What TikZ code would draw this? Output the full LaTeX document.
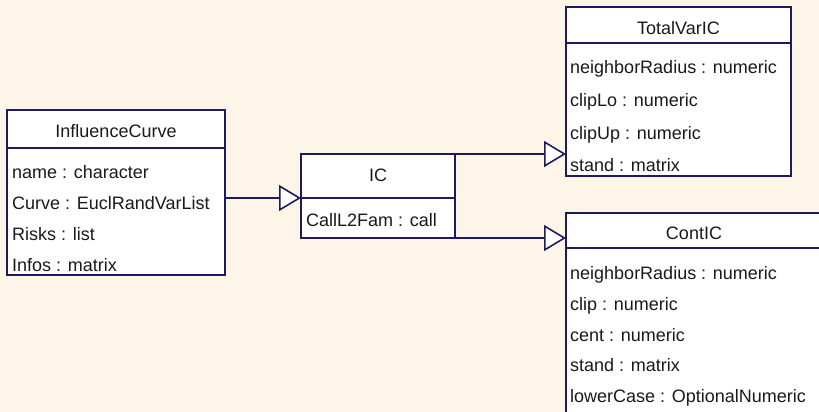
\documentclass[tikz,border=0pt]{standalone}
\usepackage{fontspec}
\setmainfont{Liberation Sans}
\usetikzlibrary{arrows.meta}
\definecolor{bgc}{HTML}{FDF5E8}
\definecolor{umlline}{HTML}{1B1B5E}
\definecolor{txt}{HTML}{1A1A1A}
\begin{document}
\begin{tikzpicture}[x=1pt,y=-1pt,
  classbox/.style={draw=umlline, line width=1.6pt, fill=white, anchor=north west, inner sep=0pt, outer sep=0pt},
  title/.style={anchor=base, inner sep=0pt, font=\fontsize{18}{21}\selectfont, text=txt},
  attr/.style={anchor=base west, inner sep=0pt, font=\fontsize{18}{21}\selectfont, text=txt},
  sepline/.style={draw=umlline, line width=1.6pt},
  inherit/.style={draw=umlline, line width=1.6pt, -{Triangle[length=22pt,width=26pt,fill=white]}}]
\useasboundingbox (0,0) rectangle (819,412);
\clip (0,0) rectangle (819,412);
\fill[bgc] (0,0) rectangle (819,412);

% InfluenceCurve
\node[classbox, minimum width=218pt, minimum height=165pt] (ifc) at (7,110) {};
\draw[sepline] (7,148) -- (225,148);
\node[title] (ifct) at (116,137.3) {InfluenceCurve};
\node[attr] (ifc1) at (12,178) {name : character};
\node[attr] (ifc2) at (12,209) {Curve : EuclRandVarList};
\node[attr] (ifc3) at (12,240) {Risks : list};
\node[attr] (ifc4) at (12,271) {Infos : matrix};

% IC
\node[classbox, minimum width=154pt, minimum height=84pt] (ic) at (301,154) {};
\draw[sepline] (301,198) -- (455,198);
\node[title] (ict) at (378,181.7) {IC};
\node[attr] (ic1) at (306,226.7) {CallL2Fam : call};

% TotalVarIC
\node[classbox, minimum width=225pt, minimum height=169pt] (tv) at (566,7) {};
\draw[sepline] (566,43) -- (791,43);
\node[title] (tvt) at (678.5,34.3) {TotalVarIC};
\node[attr] (tv1) at (570,73.3) {neighborRadius : numeric};
\node[attr] (tv2) at (570,106) {clipLo : numeric};
\node[attr] (tv3) at (570,139.3) {clipUp : numeric};
\node[attr] (tv4) at (570,171.7) {stand : matrix};

% ContIC
\node[classbox, minimum width=256pt, minimum height=210pt] (ci) at (566,213) {};
\draw[sepline] (566,248) -- (822,248);
\node[title] (cit) at (694,239.3) {ContIC};
\node[attr] (ci1) at (570,279) {neighborRadius : numeric};
\node[attr] (ci2) at (570,310) {clip : numeric};
\node[attr] (ci3) at (570,341) {cent : numeric};
\node[attr] (ci4) at (570,371.7) {stand : matrix};
\node[attr] (ci5) at (570,402.7) {lowerCase : OptionalNumeric};

% connectors
\coordinate (icin) at (301,198);
\draw[inherit] (ifc.east |- icin) -- (ic.west |- icin);
\draw[inherit] (ic.north east) -- (tv.west |- ic.north east);
\draw[inherit] (ic.south east) -- (ci.west |- ic.south east);
\end{tikzpicture}
\end{document}
